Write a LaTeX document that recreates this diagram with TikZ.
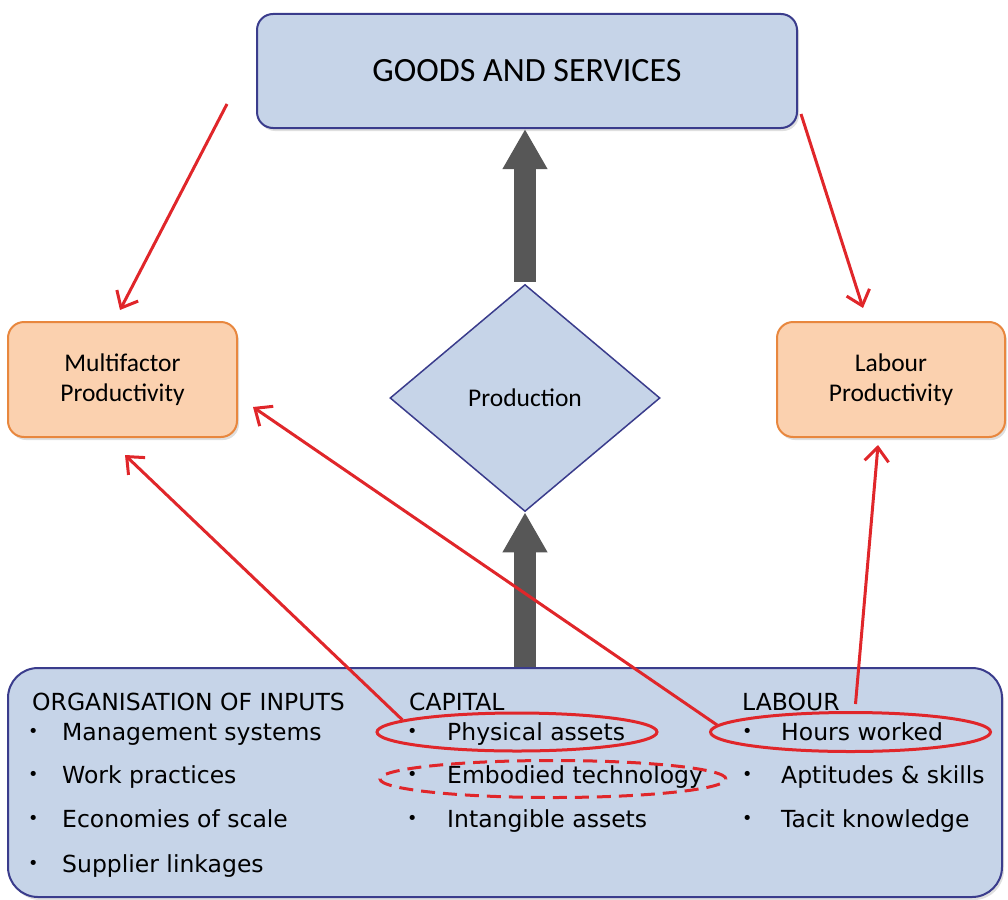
\documentclass[tikz,border=0pt]{standalone}
\usepackage{fontspec}
\setmainfont{Carlito}
\newfontfamily\bodyfont{DejaVu Sans}
\usetikzlibrary{shapes.geometric,arrows.meta,calc,shadows}

\definecolor{boxblue}{HTML}{C6D4E8}
\definecolor{edgeblue}{HTML}{3A3C8C}
\definecolor{boxorange}{HTML}{FBD1AF}
\definecolor{edgeorange}{HTML}{E8873E}
\definecolor{linkred}{HTML}{E0262A}
\definecolor{flowgrey}{HTML}{575757}
\newcommand{\bul}{\makebox[30pt]{\raisebox{2.5pt}{\scalebox{0.75}{•}}}}

\begin{document}
\begin{tikzpicture}[x=1pt,y=-1pt,
  softshadow/.style={drop shadow={opacity=0.25,shadow xshift=2pt,shadow yshift=-3pt}},
  bluebox/.style={draw=edgeblue, fill=boxblue, line width=2pt, rounded corners=16pt, softshadow},
  orangebox/.style={draw=edgeorange, fill=boxorange, line width=2pt, rounded corners=16pt, softshadow,
    align=center, font=\fontsize{25.5}{30}\selectfont},
  link/.style={draw=linkred, line width=3pt, -{Straight Barb[length=14pt,width=24pt,line width=3pt]}},
  flow/.style={draw=flowgrey, line width=22pt, -{Triangle[length=40pt,width=42pt]}},
  item/.style={anchor=base west, inner sep=0pt, font=\bodyfont\fontsize{23.5}{28}\selectfont},
  ring/.style={draw=linkred, line width=3pt, shape=ellipse, inner sep=0pt},
]
\useasboundingbox (0,0) rectangle (1008,899);

% top and side boxes
\node[bluebox, minimum width=540pt, minimum height=114pt, font=\fontsize{34}{40}\selectfont] (goods) at (527,71) {GOODS AND SERVICES};
\node[orangebox, minimum width=229pt, minimum height=115pt] (mfp) at (122.5,379.5) {Multifactor\\Productivity};
\node[orangebox, minimum width=228pt, minimum height=115pt] (lp) at (891,379.5) {Labour\\Productivity};
\node[shape=diamond, draw=edgeblue, fill=boxblue, line width=1.5pt, minimum width=270pt, minimum height=227pt,
  inner sep=0pt, font=\fontsize{25.5}{30}\selectfont] (prod) at (525,398) {Production};

% bottom box
\node[bluebox, rounded corners=30pt, minimum width=994pt, minimum height=229pt] (inputs) at (505,782.5) {};

% grey flow arrows
\draw[flow] ([yshift=2pt]prod.north) -- (prod.north |- goods.south);
\draw[flow] (prod.south |- inputs.north) -- (prod.south);

% texts in the bottom box
\node[item] (hOrg) at (32,710) {ORGANISATION OF INPUTS};
\node[item] (o1) at (18,740) {\bul\hspace{14pt}Management systems};
\node[item] (o2) at (18,783) {\bul\hspace{14pt}Work practices};
\node[item] (o3) at (18,827) {\bul\hspace{14pt}Economies of scale};
\node[item] (o4) at (18,872) {\bul\hspace{14pt}Supplier linkages};

\node[item] (hCap) at (409,710) {CAPITAL};
\node[item] (c1) at (397,740) {\bul\hspace{20pt}Physical assets};
\node[item] (c2) at (397,783) {\bul\hspace{20pt}Embodied technology};
\node[item] (c3) at (397,827) {\bul\hspace{20pt}Intangible assets};

\node[item] (hLab) at (742,710) {LABOUR};
\node[item] (l1) at (732,740) {\bul\hspace{19pt}Hours worked};
\node[item] (l2) at (732,783) {\bul\hspace{19pt}Aptitudes \& skills};
\node[item] (l3) at (732,827) {\bul\hspace{19pt}Tacit knowledge};

% rings
\node[ring, minimum width=280pt, minimum height=38pt] (pa) at (517,732) {};
\node[ring, dashed, dash pattern=on 14pt off 8pt, minimum width=346pt, minimum height=37pt] (et) at (553,779) {};
\node[ring, minimum width=280pt, minimum height=39pt] (hw) at (850.5,732) {};

% red links
\coordinate (g1) at ($(goods.south west)+(-29,-25)$);
\coordinate (g2) at ($(goods.south east)+(3,-15)$);
\draw[link] (g1) -- ($(mfp.north)+(-2.5,-11)$);
\draw[link] (g2) -- ($(lp.north)+(-28,-13)$);
\draw[link] (pa.174) -- ($(mfp.south)+(2.5,17)$);
\draw[link] (hw.177) -- ($(mfp.east)+(15,27.5)$);
\draw[link] ($(hw.north)+(5,-7)$) -- ($(lp.south)+(-13,7)$);
\end{tikzpicture}
\end{document}
